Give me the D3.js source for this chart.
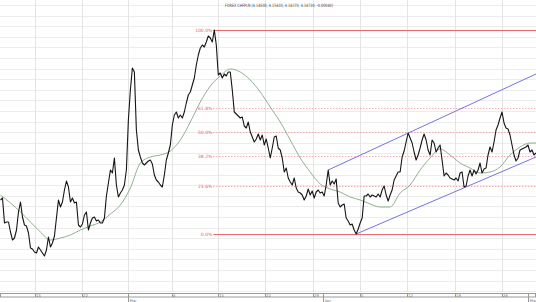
<!DOCTYPE html>
<html><head><meta charset="utf-8">
<script src="https://cdn.jsdelivr.net/npm/d3@7"></script>
<style>html,body{margin:0;padding:0;background:#fff;}svg{display:block;}</style>
</head><body><svg id="c" width="536" height="302"></svg>
<script>
const title = "FOREX CHFPLN (4.14500, 4.15410, 4.14270, 4.14730, -0.00040)";
const prices = [4.100,4.102,4.077,4.078,4.078,4.068,4.060,4.062,4.070,4.088,4.098,4.083,4.075,4.074,4.067,4.052,4.051,4.048,4.047,4.053,
4.050,4.047,4.044,4.050,4.063,4.053,4.057,4.064,4.082,4.100,4.093,4.098,4.110,4.119,4.113,4.098,4.102,4.097,4.098,4.075,
4.073,4.076,4.085,4.088,4.070,4.077,4.082,4.083,4.079,4.080,4.077,4.077,4.082,4.104,4.117,4.130,4.127,4.142,4.115,4.103,
4.107,4.110,4.115,4.130,4.180,4.210,4.232,4.228,4.170,4.150,4.143,4.137,4.135,4.137,4.139,4.140,4.136,4.125,4.120,4.118,
4.115,4.113,4.125,4.140,4.147,4.155,4.175,4.185,4.188,4.182,4.185,4.182,4.188,4.197,4.205,4.208,4.215,4.222,4.235,4.245,
4.252,4.255,4.253,4.258,4.264,4.262,4.258,4.270,4.255,4.225,4.227,4.222,4.226,4.224,4.228,4.228,4.210,4.188,4.186,4.184,
4.182,4.183,4.174,4.172,4.178,4.168,4.163,4.158,4.161,4.166,4.160,4.165,4.155,4.161,4.152,4.142,4.152,4.163,4.164,4.152,
4.150,4.142,4.128,4.132,4.122,4.118,4.115,4.122,4.112,4.108,4.107,4.105,4.100,4.104,4.111,4.105,4.109,4.102,4.108,4.110,
4.107,4.108,4.104,4.115,4.130,4.115,4.119,4.116,4.121,4.097,4.093,4.095,4.096,4.082,4.079,4.075,4.076,4.070,4.066,4.071,
4.077,4.082,4.104,4.104,4.106,4.103,4.105,4.104,4.103,4.106,4.103,4.110,4.114,4.105,4.099,4.105,4.110,4.120,4.124,4.128,
4.128,4.143,4.149,4.158,4.167,4.162,4.157,4.148,4.140,4.145,4.152,4.160,4.166,4.160,4.150,4.145,4.160,4.157,4.148,4.152,
4.155,4.140,4.124,4.127,4.125,4.122,4.121,4.120,4.122,4.119,4.127,4.128,4.113,4.114,4.124,4.130,4.124,4.130,4.126,4.130,
4.137,4.127,4.131,4.132,4.145,4.153,4.148,4.158,4.170,4.175,4.182,4.188,4.177,4.172,4.171,4.165,4.155,4.145,4.139,4.142,
4.150,4.151,4.152,4.153,4.155,4.148,4.150,4.145,4.147];
// moving average, sampled every 5 bars (last sample at final bar)
const maIdx = [0,5,10,15,20,25,30,35,40,45,50,55,60,65,70,75,80,85,90,95,100,105,110,115,120,125,130,135,140,145,150,155,160,165,170,175,180,185,190,195,200,205,210,215,220,225,230,235,240,245,250,255,260,265,268];
const maVals = [4.105,4.097,4.088,4.078,4.068,4.060,4.062,4.065,4.070,4.074,4.078,4.086,4.095,4.112,4.137,4.143,4.145,4.149,4.160,4.178,4.198,4.214,4.224,4.231,4.228,4.220,4.208,4.193,4.178,4.160,4.142,4.128,4.116,4.111,4.108,4.103,4.100,4.096,4.093,4.093,4.107,4.115,4.130,4.142,4.151,4.145,4.137,4.132,4.127,4.128,4.133,4.145,4.153,4.157,4.157];
const chanUpIdx = [164, 268], chanUpVals = [4.130, 4.226];
const chanLoIdx = [178, 268], chanLoVals = [4.066, 4.143];
const fibLevels = [1, 0.618, 0.5, 0.382, 0.236, 0];
const fibLabels = ["100.0%","61.8%","50.0%","38.2%","23.6%","0.0%"];
const weekIdx = [17.5, 41, 64, 86, 109, 132.5, 156.5, 180, 203.5, 227.5, 251];
const weekLabels = ["15","22","","8","15","22","29","5","12","19","26"];
const monthIdx = [64, 161.5, 264];
const monthLabels = ["Mar","Apr","May"];

const W = 536, H = 302, plotBottom = 292;
const svg = d3.select("#c");
const x = d3.scaleLinear().domain([0, prices.length - 1]).range([0.5, W]);
const y = d3.scaleLinear().domain([4.008, 4.300]).range([plotBottom, 0]);

// horizontal grid
const g = svg.append("g");
g.selectAll("line.h").data(d3.range(4.295, 4.008, -0.0106)).join("line")
  .attr("x1", 0).attr("x2", W).attr("y1", d => Math.round(y(d)) + 0.5).attr("y2", d => Math.round(y(d)) + 0.5)
  .attr("stroke", "#ececec").attr("stroke-width", 1);
// vertical grid
g.selectAll("line.v").data(weekIdx).join("line")
  .attr("x1", d => Math.round(x(d)) + 0.5).attr("x2", d => Math.round(x(d)) + 0.5)
  .attr("y1", 0).attr("y2", plotBottom)
  .attr("stroke", "#e4e4e4").attr("stroke-width", 1);

// title
svg.append("text").attr("x", 225).attr("y", 6.5).attr("textLength", 108).attr("lengthAdjust", "spacingAndGlyphs")
  .attr("font-family", "DejaVu Sans, sans-serif").attr("font-size", 4.5).attr("fill", "#444").text(title);

// fibonacci
const hiIdx = d3.maxIndex(prices);
const hi = prices[hiIdx];
const lo = d3.min(prices.slice(hiIdx));
const fg = svg.append("g");
fibLevels.forEach((lv, k) => {
  const v = lo + lv * (hi - lo);
  const yy = Math.round(y(v)) + 0.5;
  const solid = (lv === 1 || lv === 0);
  fg.append("line").attr("x1", x(hiIdx) - 1).attr("x2", W).attr("y1", yy).attr("y2", yy)
    .attr("stroke", solid ? "#e8686d" : "#e98a8e").attr("stroke-width", 1)
    .attr("stroke-dasharray", solid ? null : "1,2");
  fg.append("text").attr("x", x(hiIdx) - 2).attr("y", yy + 1.6).attr("text-anchor", "end")
    .attr("font-family", "DejaVu Sans, sans-serif").attr("font-size", 4.5).attr("fill", "#e35d63").text(fibLabels[k]);
});

// moving average
svg.append("path").datum(maIdx.map((d, i) => [d, maVals[i]]))
  .attr("fill", "none").attr("stroke", "#86a586").attr("stroke-width", 0.9)
  .attr("d", d3.line().x(d => x(d[0])).y(d => y(d[1])).curve(d3.curveMonotoneX));

// channel
[[chanUpIdx, chanUpVals], [chanLoIdx, chanLoVals]].forEach(([ix, vs]) => {
  svg.append("line").attr("x1", x(ix[0])).attr("y1", y(vs[0])).attr("x2", x(ix[1])).attr("y2", y(vs[1]))
    .attr("stroke", "#7373e2").attr("stroke-width", 1);
});

// price
svg.append("path").datum(prices)
  .attr("fill", "none").attr("stroke", "#151515").attr("stroke-width", 1.1).attr("stroke-linejoin", "round")
  .attr("d", d3.line().x((d, i) => x(i)).y(d => y(d)));

// bottom axis strip
const ax = svg.append("g");
ax.append("rect").attr("x", 0.5).attr("y", 293.5).attr("width", W - 1).attr("height", 3.5)
  .attr("fill", "#fff").attr("stroke", "#9a9a9a").attr("stroke-width", 1);
weekIdx.forEach((d, i) => {
  const xx = Math.round(x(d)) + 0.5;
  ax.append("line").attr("x1", xx).attr("x2", xx).attr("y1", 293.5).attr("y2", 297).attr("stroke", "#9a9a9a");
  if (weekLabels[i]) ax.append("text").attr("x", xx + 0.5).attr("y", 297).attr("font-family", "DejaVu Sans, sans-serif")
    .attr("font-size", 3.8).attr("fill", "#777").text(weekLabels[i]);
});
monthIdx.forEach((d, i) => {
  const xx = Math.round(x(d)) + 0.5;
  ax.append("line").attr("x1", xx).attr("x2", xx).attr("y1", 293.5).attr("y2", 302).attr("stroke", "#9a9a9a");
  ax.append("text").attr("x", xx + 1).attr("y", 301.5).attr("font-family", "DejaVu Sans, sans-serif")
    .attr("font-size", 3.8).attr("fill", "#777").text(monthLabels[i]);
});
</script></body></html>
